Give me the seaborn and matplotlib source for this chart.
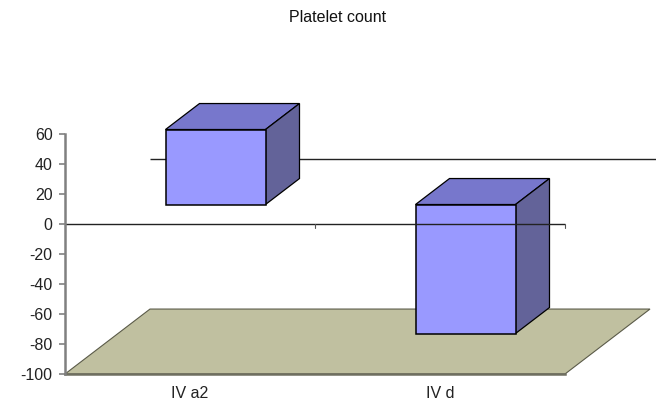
import matplotlib
matplotlib.use("Agg")
import matplotlib.pyplot as plt
from matplotlib.patches import Polygon
from matplotlib.transforms import Affine2D
import seaborn as sns
import pandas as pd

# Data
categories = ["IV a2", "IV d"]
values = [50, -86]
y_ticks = [-100, -80, -60, -40, -20, 0, 20, 40, 60]
title = "Platelet count"

# Styling
front_color = "#9999FF"
top_color = "#7777CC"
side_color = "#636399"
floor_color = "#C0C0A0"
axis_gray = "#808080"

sns.set_theme(style="white")
plt.rcParams["font.family"] = ["Liberation Sans", "DejaVu Sans"]

fig = plt.figure(figsize=(6.56, 4.01), dpi=100)
W, H = 656, 401
ax = fig.add_axes([65 / W, (H - 374) / H, (W - 65) / W, (374 - 95) / H])

df = pd.DataFrame({"group": categories, "value": values})
sns.barplot(data=df, x="group", y="value", width=0.4, color=front_color,
            saturation=1, edgecolor="black", linewidth=1.1, ax=ax, zorder=3)

# Oblique depth projection: full depth in data units
depth_x, depth_y = 0.34, 43.3
front_frac, bar_frac = 0.30, 0.40
ox, oy = front_frac * depth_x, front_frac * depth_y
bx, by = bar_frac * depth_x, bar_frac * depth_y

xmin, xmax = -0.5, len(categories) - 0.5
xright = -0.5 + (W - 65) / 250
ybase = y_ticks[0]

# Floor plane at the bottom of the value axis
floor = Polygon([(xmin, ybase), (xmax, ybase), (xmax + depth_x, ybase + depth_y),
                 (xmin + depth_x, ybase + depth_y)], closed=True,
                facecolor=floor_color, edgecolor="#5a5a48", linewidth=0.8, zorder=0)
ax.add_patch(floor)

# Zero line on the back wall
ax.plot([xmin + depth_x, xright], [depth_y, depth_y], color="#222222",
        linewidth=1.0, zorder=1, solid_capstyle="butt", clip_on=False)

# Shift front faces into depth and add top and side faces
shift = Affine2D().translate(ox, oy) + ax.transData
for patch in ax.patches:
    if patch is floor:
        continue
    patch.set_transform(shift)
    x0 = patch.get_x()
    x1 = x0 + patch.get_width()
    y0 = patch.get_y()
    y1 = y0 + patch.get_height()
    ylo, yhi = min(y0, y1), max(y0, y1)
    top = Polygon([(x0 + ox, yhi + oy), (x1 + ox, yhi + oy),
                   (x1 + ox + bx, yhi + oy + by), (x0 + ox + bx, yhi + oy + by)],
                  closed=True, facecolor=top_color, edgecolor="black",
                  linewidth=0.9, zorder=2)
    side = Polygon([(x1 + ox, ylo + oy), (x1 + ox, yhi + oy),
                    (x1 + ox + bx, yhi + oy + by), (x1 + ox + bx, ylo + oy + by)],
                   closed=True, facecolor=side_color, edgecolor="black",
                   linewidth=0.9, zorder=2)
    ax.add_patch(top)
    ax.add_patch(side)

# Zero line on the front plane with category separators
ax.plot([xmin, xmax], [0, 0], color="#222222", linewidth=1.0, zorder=4,
        solid_capstyle="butt")
for xb in [xmin + 1 + i for i in range(len(categories))]:
    ax.plot([xb, xb], [0, -2.5], color="#555555", linewidth=0.8, zorder=4)

ax.set_xlim(xmin, xright)
ax.set_ylim(ybase, ybase + (374 - 95) / 1.5)
ax.set_yticks(y_ticks)
ax.set_yticklabels([str(t) for t in y_ticks])
ax.set_xlabel("")
ax.set_ylabel("")

for s in ["top", "right"]:
    ax.spines[s].set_visible(False)
ax.spines["left"].set_bounds(y_ticks[0], y_ticks[-1])
ax.spines["left"].set_color(axis_gray)
ax.spines["left"].set_linewidth(1.8)
ax.spines["bottom"].set_bounds(xmin, xmax)
ax.spines["bottom"].set_color("#6e6e60")
ax.spines["bottom"].set_linewidth(1.8)
ax.spines["left"].set_zorder(5)

ax.tick_params(axis="y", which="major", left=True, length=4, width=1.2,
               color=axis_gray, pad=5, labelsize=11.5, labelcolor="#222222")
ax.tick_params(axis="x", which="major", bottom=False, length=0, pad=9,
               labelsize=11.5, labelcolor="#222222")

fig.text(338 / W, 1 - 18 / H, title, ha="center", va="center", fontsize=11.5,
         color="#111111")

fig.savefig("out.png", dpi=100)
